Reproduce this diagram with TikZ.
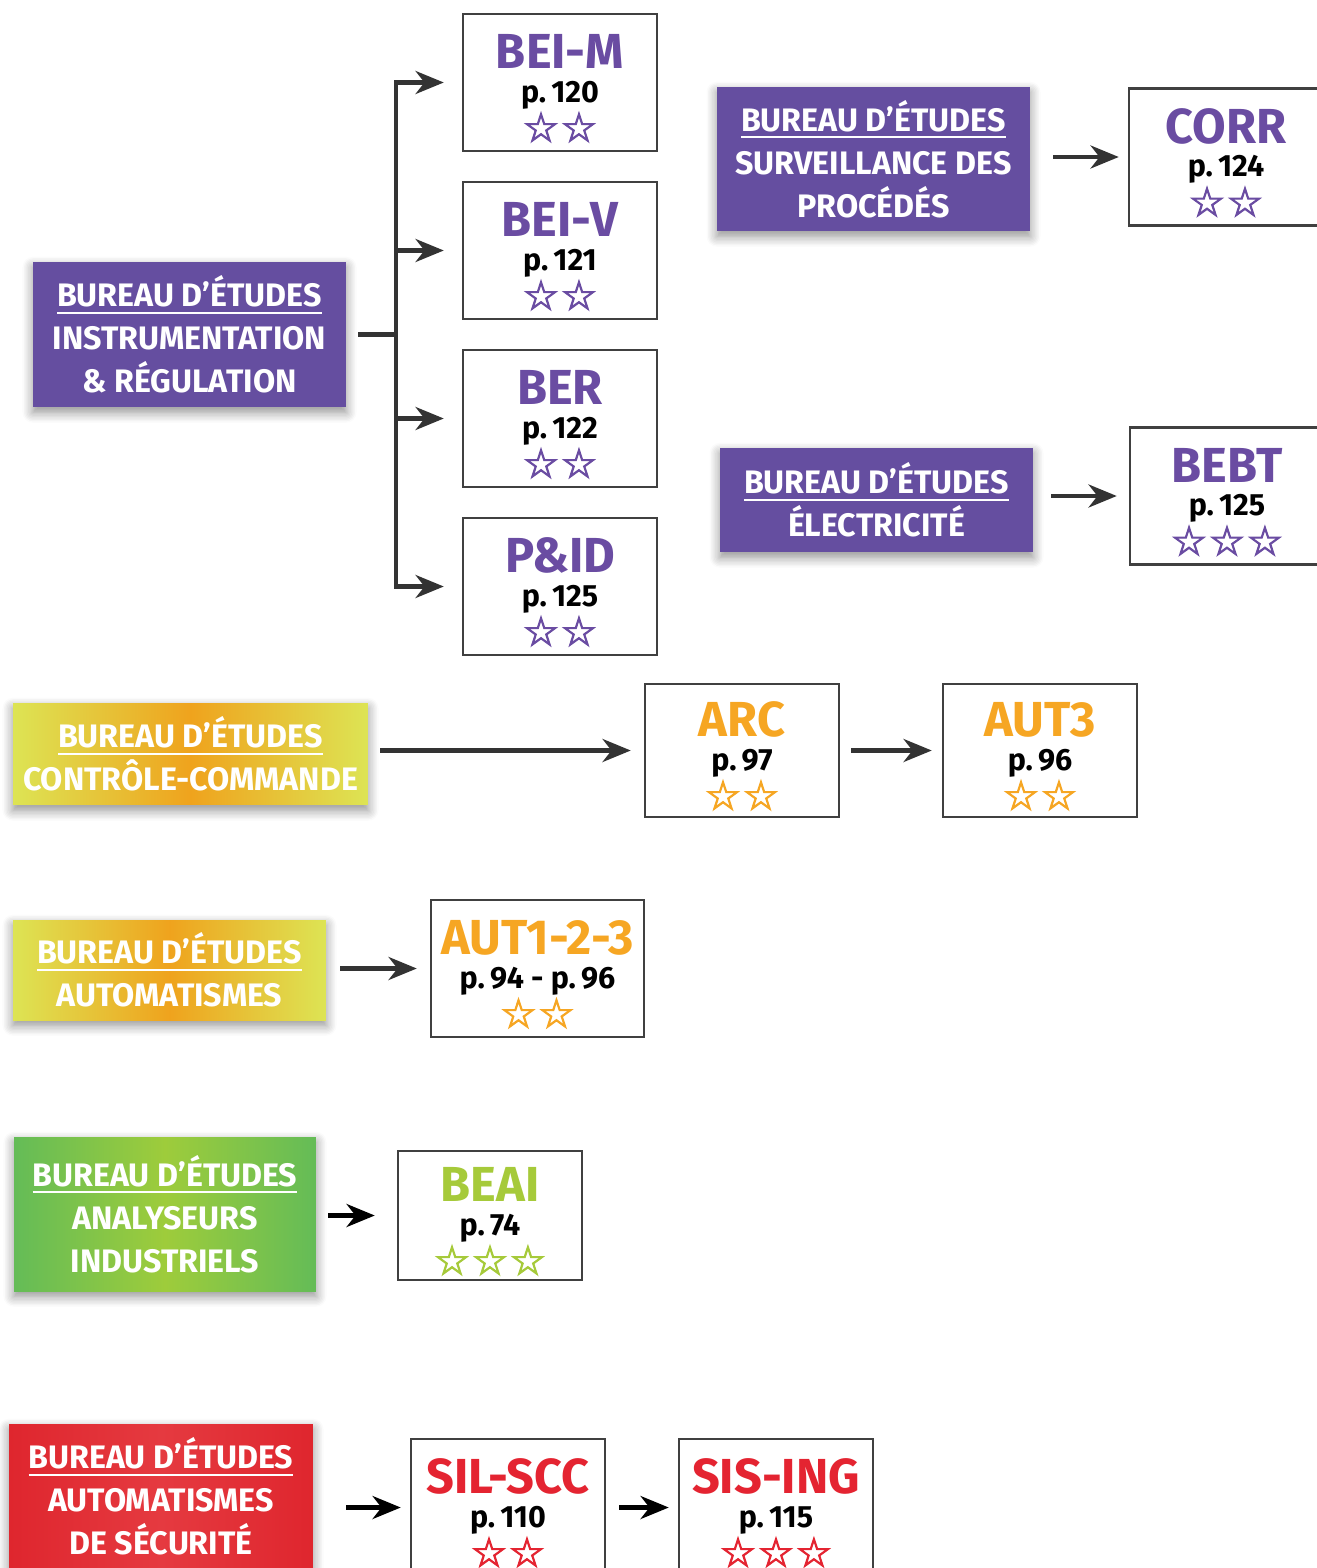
\documentclass[tikz,border=0pt]{standalone}
\usepackage{fontspec}
\setmainfont{Fira Sans}[FakeStretch=0.99]
\newfontfamily\starfont{DejaVu Sans}[FakeBold=2.6]
\usetikzlibrary{arrows.meta,shadows.blur}

\definecolor{irpurple}{HTML}{654EA0}
\definecolor{titlepurple}{HTML}{6A4CA2}
\definecolor{ccedge}{HTML}{DDE454}
\definecolor{ccmid}{HTML}{EFA31D}
\definecolor{titleorange}{HTML}{F6A623}
\definecolor{aiedge}{HTML}{64BC57}
\definecolor{aimid}{HTML}{9ECC3B}
\definecolor{titlegreen}{HTML}{A6CA3A}
\definecolor{secred}{HTML}{DF262E}
\definecolor{secmid}{HTML}{E53A40}
\definecolor{titlered}{HTML}{E42431}
\definecolor{linkgray}{HTML}{333333}
\definecolor{framegray}{HTML}{404040}

% underlined first line of every department
\newcommand\bureau{\setbox0=\hbox{BUREAU D’ÉTUDES}\rlap{\rule[-4pt]{\wd0}{1.1pt}}\box0}
\newcommand\etitle[2]{{\color{#1}\fontsize{28}{28}\selectfont\rule{0pt}{26pt}#2}}
\newcommand\stars[2]{{\color{#1}\starfont\fontsize{23}{21}\selectfont #2}}

\tikzset{
  dept/.style={inner sep=0pt, align=center, text=white,
    font=\bfseries\fontsize{18.5}{24.5}\selectfont,
    blur shadow={shadow blur steps=8, shadow xshift=0pt, shadow yshift=-3pt, shadow blur radius=6pt, shadow opacity=45}},
  entry/.style={draw=framegray, line width=1.4pt, fill=white, minimum width=3.88cm,
    minimum height=2.74cm, align=center, inner sep=0pt,
    font=\bfseries\fontsize{17.5}{21}\selectfont},
  link/.style={draw=linkgray, line width=2.8pt, line join=miter,
    -{Stealth[length=16pt, width=13pt, inset=5pt]}},
}

\begin{document}
\begin{tikzpicture}[x=0.02cm, y=-0.02cm]
  \useasboundingbox (0,0) rectangle (1316,1568);

  % instrumentation et regulation
  \node[dept, fill=irpurple, minimum width=6.26cm, minimum height=2.9cm] (ir) at (189.5,334.5)
    {\bureau\\ INSTRUMENTATION\\ \& RÉGULATION};
  \node[entry] (beim) at (560,82.5) {\etitle{titlepurple}{BEI-M}\\[-2pt] p.\,120\\[1.5pt] \stars{titlepurple}{☆\hspace{1pt}☆}};
  \node[entry] (beiv) at (560,250.5) {\etitle{titlepurple}{BEI-V}\\[-2pt] p.\,121\\[1.5pt] \stars{titlepurple}{☆\hspace{1pt}☆}};
  \node[entry] (ber) at (560,418.5) {\etitle{titlepurple}{BER}\\[-2pt] p.\,122\\[1.5pt] \stars{titlepurple}{☆\hspace{1pt}☆}};
  \node[entry] (pid) at (560,586.5) {\etitle{titlepurple}{P\&ID}\\[-2pt] p.\,125\\[1.5pt] \stars{titlepurple}{☆\hspace{1pt}☆}};
  \coordinate (split) at (396,334.5);
  \draw[linkgray, line width=2.8pt] ([xshift=0.24cm]ir.east) -- (split);
  \foreach \n in {beim,beiv,ber,pid}
    \draw[link] (split) |- ([xshift=-0.36cm]\n.west);

  % surveillance des procedes
  \node[dept, fill=irpurple, minimum width=6.26cm, minimum height=2.88cm] (sp) at (873.5,159)
    {\bureau\\ SURVEILLANCE DES\\ PROCÉDÉS};
  \node[entry] (corr) at (1226,157) {\etitle{titlepurple}{CORR}\\[-2pt] p.\,124\\[1.5pt] \stars{titlepurple}{☆\hspace{1pt}☆}};
  \draw[link] ([xshift=0.46cm]sp.east |- corr.west) -- ([xshift=-0.18cm]corr.west);

  % electricite
  \node[dept, fill=irpurple, minimum width=6.26cm, minimum height=2.08cm] (el) at (876.5,500)
    {\bureau\\ ÉLECTRICITÉ};
  \node[entry] (bebt) at (1227,496) {\etitle{titlepurple}{BEBT}\\[-2pt] p.\,125\\[1.5pt] \stars{titlepurple}{☆\hspace{1pt}☆\hspace{1pt}☆}};
  \draw[link] ([xshift=0.36cm]el.east |- bebt.west) -- ([xshift=-0.24cm]bebt.west);

  % controle-commande
  \node[dept, left color=ccedge, right color=ccedge, middle color=ccmid,
    minimum width=7.1cm, minimum height=2.04cm] (cc) at (190.5,754)
    {\bureau\\ CONTRÔLE-COMMANDE};
  \node[entry, minimum height=2.66cm] (arc) at (742,750.5) {\etitle{titleorange}{ARC}\\[-2pt] p.\,97\\[1.5pt] \stars{titleorange}{☆\hspace{1pt}☆}};
  \node[entry, minimum height=2.66cm] (aut3) at (1040,750.5) {\etitle{titleorange}{AUT3}\\[-2pt] p.\,96\\[1.5pt] \stars{titleorange}{☆\hspace{1pt}☆}};
  \draw[link] ([xshift=0.24cm]cc.east |- arc.west) -- ([xshift=-0.26cm]arc.west);
  \draw[link] ([xshift=0.22cm]arc.east) -- ([xshift=-0.2cm]aut3.west);

  % automatismes
  \node[dept, left color=ccedge, right color=ccedge, middle color=ccmid,
    minimum width=6.26cm, minimum height=2cm] (auto) at (169.5,970)
    {\bureau\\ AUTOMATISMES};
  \node[entry, minimum width=4.26cm] (aut123) at (537.5,968.5) {\etitle{titleorange}{AUT1-2-3}\\[-2pt] p.\,94 - p.\,96\\[1.5pt] \stars{titleorange}{☆\hspace{1pt}☆}};
  \draw[link] ([xshift=0.28cm]auto.east |- aut123.west) -- ([xshift=-0.26cm]aut123.west);

  % analyseurs industriels
  \node[dept, left color=aiedge, right color=aiedge, middle color=aimid,
    minimum width=6.04cm, minimum height=3.08cm] (ai) at (165,1214)
    {\bureau\\ ANALYSEURS\\ INDUSTRIELS};
  \node[entry, minimum width=3.68cm, minimum height=2.58cm] (beai) at (490,1215.5) {\etitle{titlegreen}{BEAI}\\[-2pt] p.\,74\\[1.5pt] \stars{titlegreen}{☆\hspace{1pt}☆\hspace{1pt}☆}};
  \draw[link, draw=black] ([xshift=0.24cm]ai.east |- beai.west) -- ([xshift=-0.44cm]beai.west);

  % automatismes de securite
  \node[dept, left color=secred, right color=secred, middle color=secmid,
    minimum width=6.08cm, minimum height=2.9cm] (sec) at (161,1496.5)
    {\bureau\\ AUTOMATISMES\\ DE SÉCURITÉ};
  \node[entry] (silscc) at (508,1507.5) {\etitle{titlered}{SIL-SCC}\\[-2pt] p.\,110\\[1.5pt] \stars{titlered}{☆\hspace{1pt}☆}};
  \node[entry] (sising) at (776,1507.5) {\etitle{titlered}{SIS-ING}\\[-2pt] p.\,115\\[1.5pt] \stars{titlered}{☆\hspace{1pt}☆\hspace{1pt}☆}};
  \draw[link, draw=black] ([xshift=0.66cm]sec.east |- silscc.west) -- ([xshift=-0.18cm]silscc.west);
  \draw[link, draw=black] ([xshift=0.26cm]silscc.east) -- ([xshift=-0.18cm]sising.west);
\end{tikzpicture}
\end{document}
